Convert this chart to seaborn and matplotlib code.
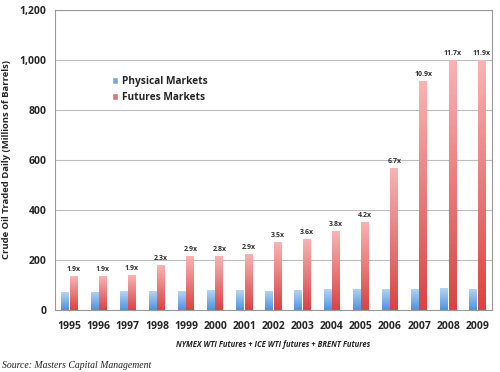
import numpy as np
import pandas as pd
import matplotlib
matplotlib.use('Agg')
import matplotlib.pyplot as plt
import seaborn as sns
from matplotlib.colors import LinearSegmentedColormap

# values
years = ['1995', '1996', '1997', '1998', '1999', '2000', '2001', '2002',
         '2003', '2004', '2005', '2006', '2007', '2008', '2009']
physical = [72, 73, 75, 76, 76, 78, 78, 77, 80, 84, 85, 85, 85, 86, 85]
futures = [135, 135, 140, 178, 215, 215, 225, 270, 284, 314, 353, 566, 917, 1000, 1000]
ratio_labels = ['1.9x', '1.9x', '1.9x', '2.3x', '2.9x', '2.8x', '2.9x', '3.5x',
                '3.6x', '3.8x', '4.2x', '6.7x', '10.9x', '11.7x', '11.9x']

df = pd.DataFrame({
    'Year': years * 2,
    'Barrels': physical + futures,
    'Market': ['Physical Markets'] * len(years) + ['Futures Markets'] * len(years),
})

sns.set_style('white')
plt.rcParams['font.family'] = ['Open Sans', 'DejaVu Sans']

fig = plt.figure(figsize=(5, 3.72), dpi=100)
ax = fig.add_axes([0.11, 0.167, 0.874, 0.806])

blue_mid = '#6fa8e6'
red_mid = '#e86a6a'
sns.barplot(data=df, x='Year', y='Barrels', hue='Market', order=years,
            palette=[blue_mid, red_mid], width=0.58, gap=0.06, ax=ax)

# gradient fill for each bar (lighter on top)
cmaps = {
    blue_mid: LinearSegmentedColormap.from_list('b', ['#4f93de', '#b5d4f3']),
    red_mid: LinearSegmentedColormap.from_list('r', ['#d94444', '#f8b3b3']),
}
grad = np.linspace(0, 1, 64).reshape(-1, 1)
for cont, col in zip(ax.containers, [blue_mid, red_mid]):
    for p in cont.patches:
        x0, y0 = p.get_x(), p.get_y()
        w, h = p.get_width(), p.get_height()
        im = ax.imshow(grad, cmap=cmaps[col], origin='lower', aspect='auto',
                       extent=[x0, x0 + w, y0, y0 + h], zorder=p.get_zorder())
        im.set_clip_path(p)
        p.set_facecolor('none')
        p.set_edgecolor('none')

# ratio labels above the futures bars
fut_patches = ax.containers[1].patches
for p, lab in zip(fut_patches, ratio_labels):
    ax.text(p.get_x() + p.get_width() / 2, p.get_height() + 12, lab,
            ha='center', va='bottom', fontsize=5, fontweight='bold', color='#333333')

ax.set_xlim(-0.5, len(years) - 0.5)
ax.set_ylim(0, 1200)
ax.set_yticks(np.arange(0, 1201, 200))
ax.set_yticklabels([f'{v:,}' for v in range(0, 1201, 200)], fontsize=7.5, fontweight='bold')
ax.yaxis.grid(True, color='#bdbdbd', linewidth=0.8)
ax.set_axisbelow(True)

ax.set_xticks(range(len(years)))
ax.set_xticklabels(years, fontsize=7.5, fontweight='bold')
ax.tick_params(axis='x', length=0, pad=8)
ax.tick_params(axis='y', length=3, color='#999999', pad=3)
ax.set_xticks(np.arange(-0.5, len(years), 1), minor=True)
ax.tick_params(axis='x', which='minor', length=4, color='#999999', direction='out')

for s in ax.spines.values():
    s.set_color('#999999')
    s.set_linewidth(0.8)

ax.set_ylabel('Crude Oil Traded Daily (Millions of Barrels)', fontsize=6.8,
              fontweight='bold', labelpad=6)
ax.set_xlabel('NYMEX WTI Futures + ICE WTI futures + BRENT Futures', fontsize=5.5,
              fontweight='bold', style='italic', labelpad=6)

leg = ax.legend(loc='upper left', bbox_to_anchor=(0.11, 0.81), frameon=False,
                fontsize=7.3, handlelength=0.6, handleheight=0.6,
                handletextpad=0.4, labelspacing=0.5)
for t in leg.get_texts():
    t.set_fontweight('bold')

fig.text(0.005, 0.012, 'Source: Masters Capital Management', fontsize=7,
         style='italic', family='Liberation Serif', color='#222222')

fig.savefig('out.png', dpi=100, facecolor='white')
